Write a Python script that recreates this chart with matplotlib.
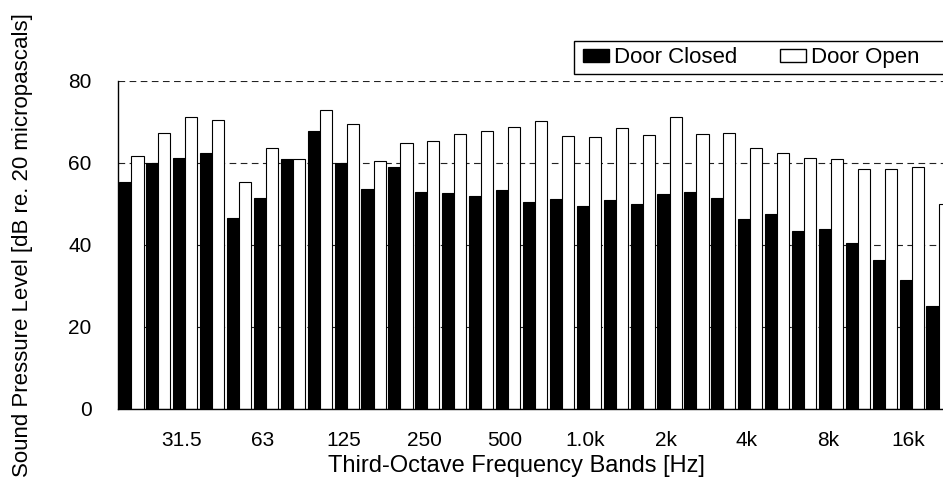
import matplotlib.pyplot as plt
import numpy as np
from matplotlib.patches import Patch, Rectangle

plt.rcParams['font.family'] = ['Liberation Sans', 'DejaVu Sans']

# Bandas de tercio de octava 20 Hz .. 20 kHz
bands = ['20', '25', '31.5', '40', '50', '63', '80', '100', '125', '160',
         '200', '250', '315', '400', '500', '630', '800', '1.0k', '1.25k', '1.6k',
         '2k', '2.5k', '3.15k', '4k', '5k', '6.3k', '8k', '10k', '12.5k', '16k', '20k']
door_closed = [55.3, 59.9, 61.3, 62.4, 46.5, 51.5, 61.0, 67.8, 59.9, 53.7,
               59.0, 52.9, 52.8, 52.0, 53.3, 50.5, 51.1, 49.4, 51.0, 50.0,
               52.5, 53.0, 51.4, 46.4, 47.5, 43.3, 43.9, 40.5, 36.4, 31.4, 25.1]
door_open = [61.6, 67.4, 71.3, 70.5, 55.4, 63.6, 61.0, 73.0, 69.5, 60.5,
             65.0, 65.3, 67.1, 67.7, 68.9, 70.3, 66.5, 66.4, 68.5, 66.9,
             71.3, 67.0, 67.4, 63.7, 62.4, 61.1, 61.0, 58.6, 58.5, 59.0, 50.0]
shown_ticks = ['31.5', '63', '125', '250', '500', '1.0k', '2k', '4k', '8k', '16k']

fig = plt.figure(figsize=(9.43, 4.91), dpi=100)
ax = fig.add_axes([118/943, 1 - 409/491, (952 - 118)/943, (409 - 81)/491])

x = np.arange(len(bands))
w = 0.45
ax.bar(x - w/2, door_closed, w, color='black', edgecolor='black', linewidth=0.8, zorder=2)
ax.bar(x + w/2, door_open, w, color='white', edgecolor='black', linewidth=0.8, zorder=2)

ax.set_xlim(-0.5, len(bands) - 0.5)
ax.set_ylim(0, 80)
ax.set_yticks([0, 20, 40, 60, 80])
ticks_idx = [bands.index(t) for t in shown_ticks]
ax.set_xticks([i - 0.12 for i in ticks_idx])
ax.set_xticklabels(shown_ticks)
ax.tick_params(axis='both', length=0, labelsize=15)
ax.tick_params(axis='x', pad=16)
ax.tick_params(axis='y', pad=19)

ax.yaxis.grid(True, linestyle=(0, (6, 4)), color='#222222', linewidth=0.8, zorder=0)
ax.set_axisbelow(True)
ax.spines['top'].set_visible(False)
ax.spines['right'].set_visible(False)
for s in ['left', 'bottom']:
    ax.spines[s].set_linewidth(1.0)

fig.text(516/943, 1 - 466/491, 'Third-Octave Frequency Bands [Hz]',
         ha='center', va='center', fontsize=17)
fig.text(23/943, 1 - 245/491, 'Sound Pressure Level [dB re. 20 micropascals]',
         rotation=90, ha='center', va='center', fontsize=16)

# marco de la leyenda (se sale por la derecha, como en el original)
fig.patches.append(Rectangle((574/943, 1 - 74/491), (965 - 574)/943, 33/491,
                             transform=fig.transFigure, facecolor='white',
                             edgecolor='black', linewidth=1.0, zorder=3))

handles = [Patch(facecolor='black', edgecolor='black'),
           Patch(facecolor='white', edgecolor='black')]
leg = fig.legend(handles, ['Door Closed', 'Door Open'], ncol=2,
                 loc='center left', bbox_to_anchor=(574/943, 1 - 57.5/491),
                 fontsize=16, frameon=False,
                 handlelength=1.17, handleheight=0.54,
                 handletextpad=0.22, columnspacing=1.94, borderpad=0.4,
                 borderaxespad=0)
leg.set_zorder(4)

fig.savefig('out.png', dpi=100)
